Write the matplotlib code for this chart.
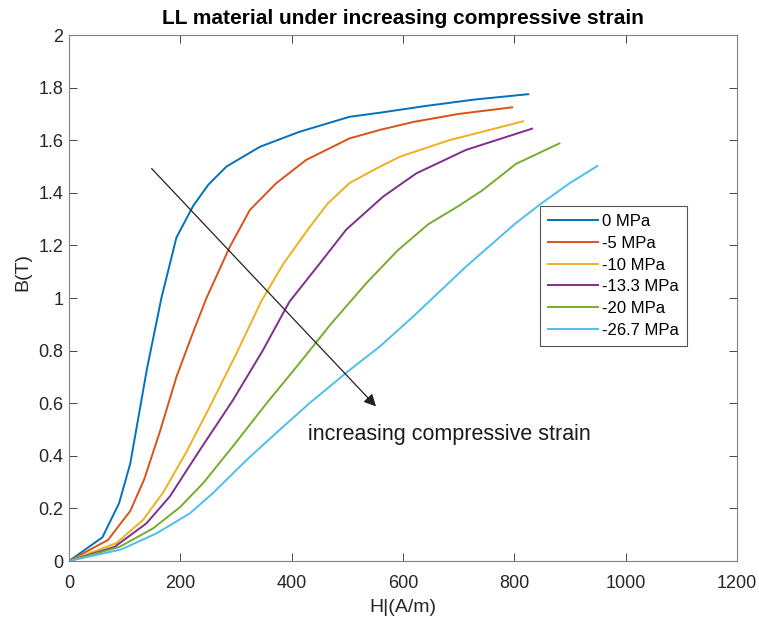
import matplotlib
matplotlib.use("Agg")
import matplotlib.pyplot as plt

plt.rcParams["font.family"] = ["Liberation Sans", "DejaVu Sans"]

labels = ["0 MPa", "-5 MPa", "-10 MPa", "-13.3 MPa", "-20 MPa", "-26.7 MPa"]
colors = ["#0072BD", "#D95319", "#EDB120", "#7E2F8E", "#77AC30", "#4DBEEE"]

h_0 = [0, 60, 90, 110, 140, 166, 193, 223, 250, 283, 343, 414, 504, 560, 640, 730, 825]
b_0 = [0, 0.09, 0.22, 0.37, 0.73, 1.0, 1.23, 1.35, 1.43, 1.50, 1.575, 1.632, 1.689, 1.705, 1.73, 1.755, 1.775]

h_5 = [0, 70, 110, 135, 163, 193, 223, 247, 289, 325, 372, 426, 504, 560, 620, 700, 796]
b_5 = [0, 0.08, 0.19, 0.31, 0.49, 0.70, 0.87, 1.0, 1.195, 1.335, 1.436, 1.525, 1.607, 1.64, 1.67, 1.70, 1.725]

h_10 = [0, 85, 133, 169, 211, 253, 301, 345, 385, 429, 465, 504, 550, 594, 683, 816]
b_10 = [0, 0.068, 0.156, 0.26, 0.415, 0.587, 0.79, 0.986, 1.13, 1.26, 1.36, 1.437, 1.49, 1.537, 1.60, 1.672]

h_13 = [0, 82, 139, 181, 235, 294, 348, 396, 450, 498, 564, 624, 713, 832]
b_13 = [0, 0.054, 0.143, 0.245, 0.422, 0.61, 0.80, 0.986, 1.13, 1.26, 1.385, 1.474, 1.563, 1.644]

h_20 = [0, 91, 151, 199, 241, 294, 355, 414, 470, 534, 590, 645, 700, 743, 803, 881]
b_20 = [0, 0.054, 0.124, 0.204, 0.296, 0.435, 0.60, 0.752, 0.90, 1.056, 1.18, 1.28, 1.35, 1.41, 1.51, 1.588]

h_27 = [0, 94, 157, 217, 258, 319, 378, 432, 504, 558, 618, 713, 800, 845, 899, 949]
b_27 = [0, 0.044, 0.105, 0.181, 0.257, 0.384, 0.498, 0.60, 0.726, 0.815, 0.929, 1.119, 1.28, 1.354, 1.436, 1.502]

series = [(h_0, b_0), (h_5, b_5), (h_10, b_10), (h_13, b_13), (h_20, b_20), (h_27, b_27)]

fig = plt.figure(figsize=(7.59, 6.23), dpi=100)
ax = fig.add_axes([0.0909, 0.0995, 0.971 - 0.0909, 0.9438 - 0.0995])

for (h, b), lab, c in zip(series, labels, colors):
    ax.plot(h, b, color=c, lw=1.4, label=lab)

ax.set_xlim(0, 1200)
ax.set_ylim(0, 2)
ax.set_xticks(range(0, 1201, 200))
ax.set_yticks([0, 0.2, 0.4, 0.6, 0.8, 1, 1.2, 1.4, 1.6, 1.8, 2])
ax.set_yticklabels(["0", "0.2", "0.4", "0.6", "0.8", "1", "1.2", "1.4", "1.6", "1.8", "2"])
ax.tick_params(direction="in", top=True, right=True, labelsize=13, colors="#262626",
               length=6, width=0.6)
ax.tick_params(axis="x", pad=10)
ax.tick_params(axis="y", pad=4)
for s in ax.spines.values():
    s.set_color("#808080")
    s.set_linewidth(0.8)

ax.set_xlabel("H|(A/m)", fontsize=14, color="#262626")
ax.set_ylabel("B(T)", fontsize=14, color="#262626")
ax.xaxis.set_label_coords(0.5, -0.089, transform=ax.transAxes)
ax.yaxis.set_label_coords(-0.069, 0.55, transform=ax.transAxes)
ax.xaxis.label.set_va("center")
ax.yaxis.label.set_va("center")
ax.set_title("LL material under increasing compressive strain", fontsize=15,
             fontweight="bold", pad=8)

ax.annotate("", xy=(555, 0.58), xytext=(145, 1.50),
            arrowprops=dict(arrowstyle="-|>", color="#222222", lw=0.9,
                            mutation_scale=18))
ax.text(430, 0.48, "increasing compressive strain", fontsize=15.5,
        va="center", ha="left", color="#1a1a1a")

leg = ax.legend(loc="upper right", bbox_to_anchor=(0.925, 0.675), fontsize=12,
                fancybox=False, edgecolor="#555555", framealpha=1,
                handlelength=3.0, borderpad=0.5, labelspacing=0.4,
                handletextpad=0.2, borderaxespad=0)
leg.get_frame().set_linewidth(0.8)

fig.savefig("out.png", dpi=100)
